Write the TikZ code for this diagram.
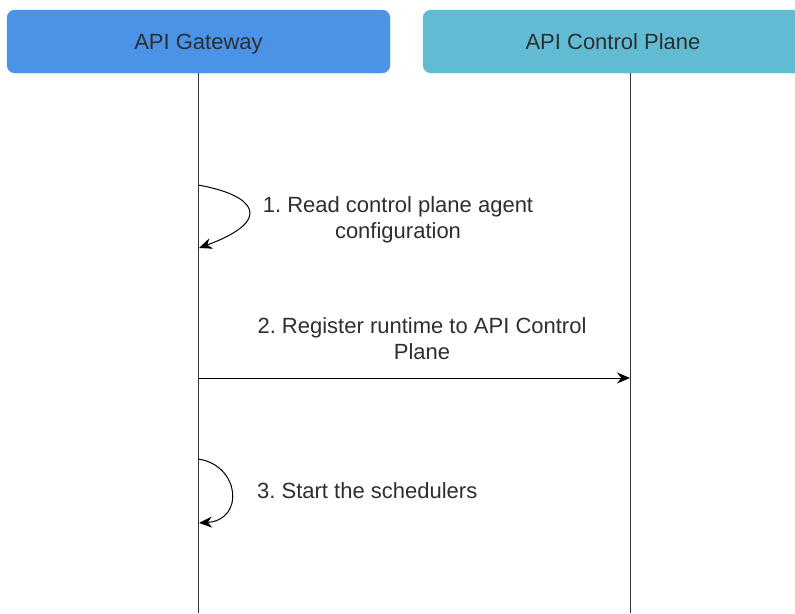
\documentclass[tikz,border=0pt]{standalone}
\usepackage{fontspec}
\setmainfont{Liberation Sans}
\usetikzlibrary{arrows.meta}
\definecolor{gwblue}{HTML}{4A93E6}
\definecolor{cpteal}{HTML}{61BCD3}
\definecolor{txt}{HTML}{2E2E2E}
\frenchspacing
\tikzset{
  actor/.style={rounded corners=8pt, fill=#1, draw=#1, minimum height=63pt,
    text depth=0pt, text=txt, font=\fontsize{22}{26}\selectfont},
  lifeline/.style={draw=black!80, line width=1pt},
  msg/.style={draw=black, line width=1pt, -{Stealth[length=13pt,width=11pt]}},
  msglabel/.style={text=txt, font=\fontsize{22}{26}\selectfont, align=center, inner sep=0pt},
}
\begin{document}
\begin{tikzpicture}[x=1pt,y=-1pt]
  \useasboundingbox (0,0) rectangle (795,613);
  % participants
  \node[actor=gwblue, minimum width=383pt] (gw) at (198.5,41.5) {API Gateway};
  \node[actor=cpteal, minimum width=380pt] (cp) at (613,41.5) {API Control Plane};
  % lifelines
  \coordinate (gwend) at (198,613);
  \coordinate (cpend) at (630,613);
  \draw[lifeline] (198,73) -- (gwend);
  \draw[lifeline] (630,73) -- (cpend);
  % message anchors on the lifelines
  \coordinate (m1s) at (198,185);
  \coordinate (m1e) at (199,248);
  \coordinate (m2s) at (198,378);
  \coordinate (m2e) at (630,378);
  \coordinate (m3s) at (198,459);
  \coordinate (m3e) at (199,523);
  % 1. self call
  \draw[msg] (m1s) .. controls (255,195) and (275,220) .. (m1e);
  \node[msglabel] (l1) at (398,220) {1. Read control plane agent\\configuration};
  % 2. call to the control plane
  \draw[msg] (m2s) -- (m2e);
  \node[msglabel] (l2) at (422,339) {2. Register runtime to API Control\\Plane};
  % 3. self call
  \draw[msg] (m3s) .. controls (240,465) and (245,520) .. (m3e);
  \node[msglabel, anchor=west] (l3) at (257,491) {3. Start the schedulers};
\end{tikzpicture}
\end{document}
